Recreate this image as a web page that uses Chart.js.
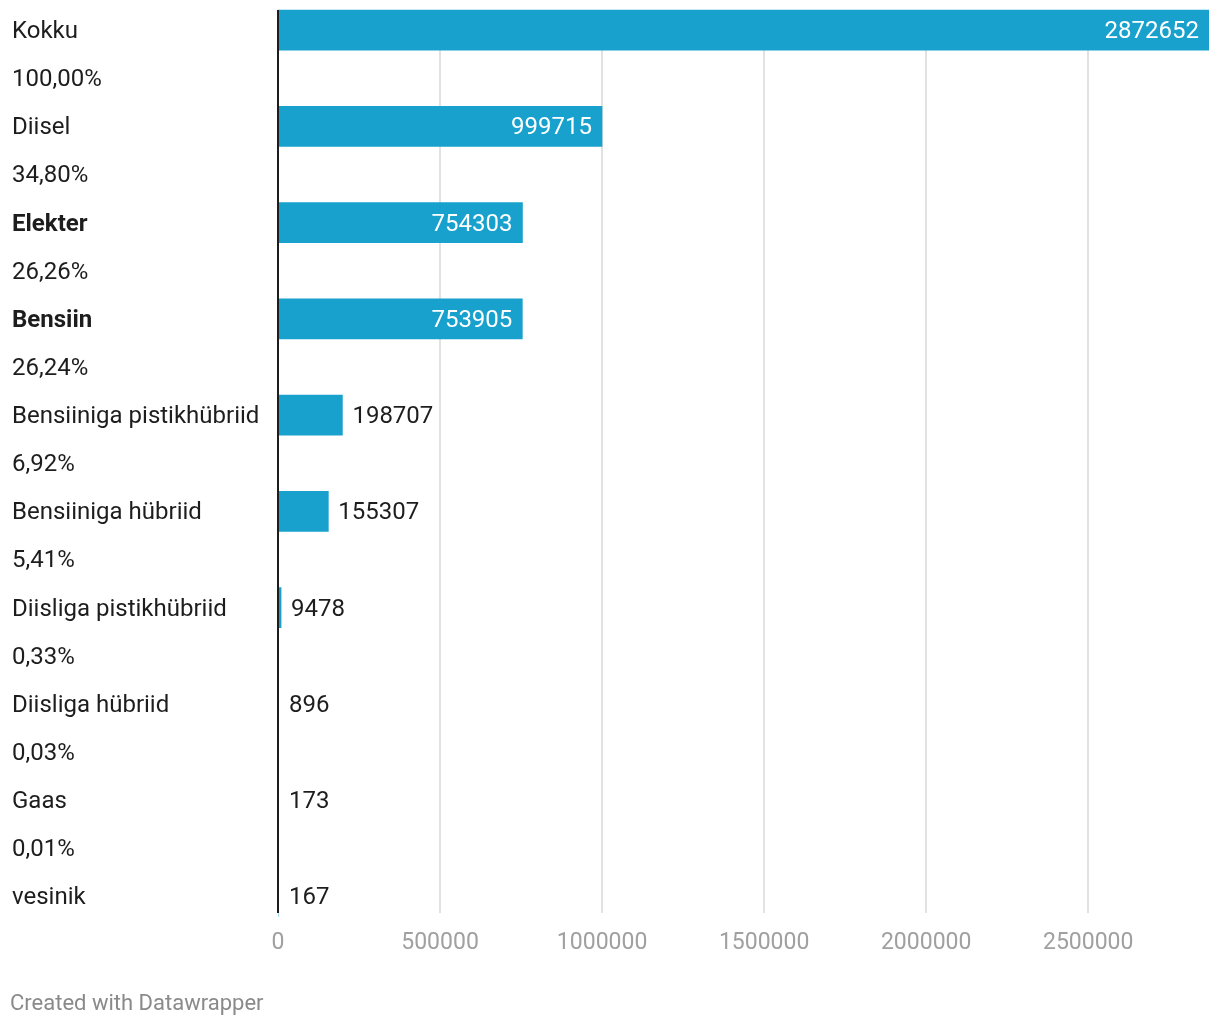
<!DOCTYPE html>
<html>
<head>
<meta charset="utf-8">
<script src="https://cdn.jsdelivr.net/npm/chart.js@4"></script>
<style>
  html, body { margin: 0; padding: 0; background: #fff; }
  #wrap { width: 1220px; height: 1026px; position: relative; }
</style>
</head>
<body>
<div id="wrap"><canvas id="kytusChart" width="1220" height="1026"></canvas></div>
<script>
// Andmed
const kategooriad = [
  'Kokku', '100,00%', 'Diisel', '34,80%', 'Elekter', '26,26%', 'Bensiin', '26,24%',
  'Bensiiniga pistikhübriid', '6,92%', 'Bensiiniga hübriid', '5,41%',
  'Diisliga pistikhübriid', '0,33%', 'Diisliga hübriid', '0,03%', 'Gaas', '0,01%', 'vesinik'
];
const vaartused = [
  2872652, null, 999715, null, 754303, null, 753905, null,
  198707, null, 155307, null, 9478, null, 896, null, 173, null, 167
];
const paksudSildid = ['Elekter', 'Bensiin'];
const xTicks = [0, 500000, 1000000, 1500000, 2000000, 2500000];
const xMax = 2872652;

const FONT = 'Roboto, "Noto Sans", sans-serif';
const tekstVarv = '#1d1d1d';
const ribaVarv = '#18a1cd';

// ruudujooned (taustal), 10..913
const ruudustikPlugin = {
  id: 'ruudustik',
  beforeDatasetsDraw(chart) {
    const ctx = chart.ctx;
    const x = chart.scales.x;
    ctx.save();
    ctx.strokeStyle = '#e2e2e2';
    ctx.lineWidth = 2;
    xTicks.forEach(t => {
      if (t === 0) return;
      const px = Math.round(x.getPixelForValue(t));
      ctx.beginPath();
      ctx.moveTo(px, 10);
      ctx.lineTo(px, 913);
      ctx.stroke();
    });
    ctx.restore();
  }
};

// Vasakpoolsed sildid + väärtused ribadel
const siltidePlugin = {
  id: 'sildid',
  afterDatasetsDraw(chart) {
    const ctx = chart.ctx;
    const y = chart.scales.y;
    const x = chart.scales.x;
    ctx.save();
    ctx.textBaseline = 'middle';
    kategooriad.forEach((k, i) => {
      const py = y.getPixelForValue(i) + 2;
      ctx.font = (paksudSildid.includes(k) ? 'bold ' : '') + '24px ' + FONT;
      ctx.fillStyle = tekstVarv;
      ctx.textAlign = 'left';
      ctx.fillText(k, 12, py);

      const v = vaartused[i];
      if (v === null) return;
      const lopp = x.getPixelForValue(v);
      const laius = lopp - x.getPixelForValue(0);
      ctx.font = '24px ' + FONT;
      if (laius > 150) {
        ctx.fillStyle = '#ffffff';
        ctx.textAlign = 'right';
        ctx.fillText(String(v), lopp - 10, py);
      } else {
        ctx.fillStyle = tekstVarv;
        ctx.textAlign = 'left';
        ctx.fillText(String(v), Math.max(lopp, x.getPixelForValue(0) + 1) + 10, py);
      }
    });
    // nulljoon
    const x0 = x.getPixelForValue(0);
    ctx.strokeStyle = '#1d1d1d';
    ctx.lineWidth = 2;
    ctx.beginPath();
    ctx.moveTo(x0, 10);
    ctx.lineTo(x0, 913);
    ctx.stroke();
    // allkiri
    ctx.font = '22px ' + FONT;
    ctx.fillStyle = '#8a8a8a';
    ctx.textAlign = 'left';
    ctx.textBaseline = 'middle';
    ctx.fillText('Created with Datawrapper', 10, 1004);
    ctx.restore();
  }
};

new Chart(document.getElementById('kytusChart').getContext('2d'), {
  type: 'bar',
  data: {
    labels: kategooriad,
    datasets: [{
      data: vaartused,
      backgroundColor: ribaVarv,
      barThickness: 40,
      borderWidth: 0
    }]
  },
  options: {
    indexAxis: 'y',
    responsive: false,
    animation: false,
    events: [],
    layout: { padding: { left: 278, right: 11, top: 6, bottom: 60 } },
    plugins: { legend: { display: false }, tooltip: { enabled: false } },
    scales: {
      y: { display: false },
      x: {
        min: 0,
        max: xMax,
        border: { display: false },
        grid: { display: false, drawTicks: false },
        afterBuildTicks: scale => { scale.ticks = xTicks.map(v => ({ value: v })); },
        ticks: {
          padding: 9,
          color: '#a0a0a0',
          font: { family: FONT, size: 23 },
          maxRotation: 0,
          autoSkip: false,
          callback: v => String(v)
        }
      }
    }
  },
  plugins: [ruudustikPlugin, siltidePlugin]
});
</script>
</body>
</html>
